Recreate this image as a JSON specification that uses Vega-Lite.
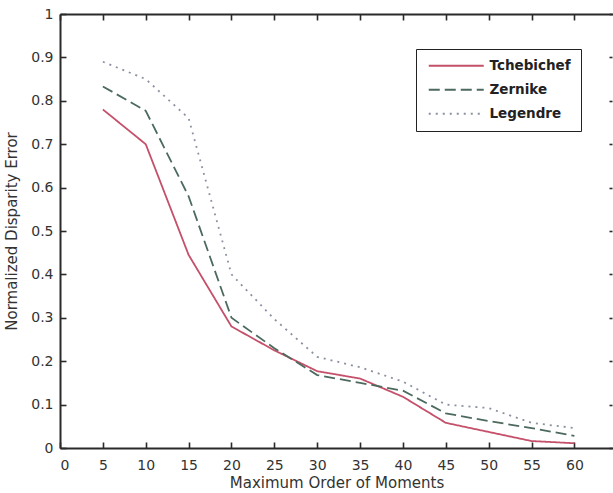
{
  "$schema": "https://vega.github.io/schema/vega-lite/v6.json",
  "autosize": "none",
  "padding": {"left": 60, "top": 14, "right": 0, "bottom": 45},
  "width": 553,
  "height": 434,
  "background": "white",
  "data": {"values": [
    {"order": 5, "error": 0.78, "method": "Tchebichef"},
    {"order": 10, "error": 0.70, "method": "Tchebichef"},
    {"order": 15, "error": 0.445, "method": "Tchebichef"},
    {"order": 20, "error": 0.28, "method": "Tchebichef"},
    {"order": 25, "error": 0.225, "method": "Tchebichef"},
    {"order": 30, "error": 0.177, "method": "Tchebichef"},
    {"order": 35, "error": 0.16, "method": "Tchebichef"},
    {"order": 40, "error": 0.118, "method": "Tchebichef"},
    {"order": 45, "error": 0.058, "method": "Tchebichef"},
    {"order": 50, "error": 0.037, "method": "Tchebichef"},
    {"order": 55, "error": 0.016, "method": "Tchebichef"},
    {"order": 60, "error": 0.011, "method": "Tchebichef"},
    {"order": 5, "error": 0.833, "method": "Zernike"},
    {"order": 10, "error": 0.777, "method": "Zernike"},
    {"order": 15, "error": 0.58, "method": "Zernike"},
    {"order": 20, "error": 0.30, "method": "Zernike"},
    {"order": 25, "error": 0.23, "method": "Zernike"},
    {"order": 30, "error": 0.168, "method": "Zernike"},
    {"order": 35, "error": 0.15, "method": "Zernike"},
    {"order": 40, "error": 0.132, "method": "Zernike"},
    {"order": 45, "error": 0.08, "method": "Zernike"},
    {"order": 50, "error": 0.062, "method": "Zernike"},
    {"order": 55, "error": 0.046, "method": "Zernike"},
    {"order": 60, "error": 0.028, "method": "Zernike"},
    {"order": 5, "error": 0.89, "method": "Legendre"},
    {"order": 10, "error": 0.85, "method": "Legendre"},
    {"order": 15, "error": 0.76, "method": "Legendre"},
    {"order": 20, "error": 0.40, "method": "Legendre"},
    {"order": 25, "error": 0.297, "method": "Legendre"},
    {"order": 30, "error": 0.21, "method": "Legendre"},
    {"order": 35, "error": 0.186, "method": "Legendre"},
    {"order": 40, "error": 0.153, "method": "Legendre"},
    {"order": 45, "error": 0.10, "method": "Legendre"},
    {"order": 50, "error": 0.092, "method": "Legendre"},
    {"order": 55, "error": 0.058, "method": "Legendre"},
    {"order": 60, "error": 0.046, "method": "Legendre"}
  ]},
  "layer": [
    {
      "mark": {"type": "line", "strokeWidth": 1.8},
      "encoding": {
        "x": {"field": "order", "type": "quantitative",
          "scale": {"domain": [0, 64.5], "nice": false, "zero": false},
          "axis": {"orient": "bottom", "title": "Maximum Order of Moments", "values": [0,5,10,15,20,25,30,35,40,45,50,55,60],
            "ticks": false, "labelPadding": 10, "titlePadding": 3, "grid": false}},
        "y": {"field": "error", "type": "quantitative",
          "scale": {"domain": [0, 1], "nice": false},
          "axis": {"orient": "left", "title": "Normalized Disparity Error", "values": [0,0.1,0.2,0.3,0.4,0.5,0.6,0.7,0.8,0.9,1],
            "format": ".1~f", "ticks": false, "labelPadding": 7, "titlePadding": 11, "grid": false}},
        "color": {"field": "method", "type": "nominal",
          "scale": {"domain": ["Tchebichef", "Zernike", "Legendre"], "range": ["#c4506a", "#4c6a5e", "#8a90a0"]},
          "legend": {"title": null, "orient": "none", "legendX": 356, "legendY": 35}},
        "strokeDash": {"field": "method", "type": "nominal",
          "scale": {"domain": ["Tchebichef", "Zernike", "Legendre"], "range": [[1, 0], [11, 5], [2, 5]]},
          "legend": {"title": null, "orient": "none", "legendX": 356, "legendY": 35}}
      }
    },
    {
      "mark": {"type": "line", "strokeOpacity": 0},
      "encoding": {
        "x": {"field": "order", "type": "quantitative",
          "scale": {"domain": [0, 64.5], "nice": false, "zero": false},
          "axis": {"orient": "top", "title": null, "labels": false, "ticks": false, "grid": false}},
        "y": {"field": "error", "type": "quantitative",
          "scale": {"domain": [0, 1], "nice": false},
          "axis": {"orient": "right", "title": null, "labels": false, "ticks": false, "domain": false, "grid": false}},
        "detail": {"field": "method"}
      }
    },
    {
      "mark": {"type": "line", "strokeOpacity": 0},
      "encoding": {
        "x": {"field": "order", "type": "quantitative",
          "scale": {"domain": [0, 64.5], "nice": false, "zero": false},
          "axis": {"orient": "bottom", "offset": -6, "title": null, "labels": false, "domain": false, "tickSize": 6,
            "values": [0,5,10,15,20,25,30,35,40,45,50,55,60], "grid": false}},
        "y": {"field": "error", "type": "quantitative",
          "scale": {"domain": [0, 1], "nice": false},
          "axis": {"orient": "left", "offset": -6, "title": null, "labels": false, "domain": false, "tickSize": 6,
            "values": [0,0.1,0.2,0.3,0.4,0.5,0.6,0.7,0.8,0.9,1], "grid": false}},
        "detail": {"field": "method"}
      }
    },
    {
      "mark": {"type": "line", "strokeOpacity": 0},
      "encoding": {
        "x": {"field": "order", "type": "quantitative",
          "scale": {"domain": [0, 64.5], "nice": false, "zero": false},
          "axis": {"orient": "top", "offset": -6, "title": null, "labels": false, "domain": false, "tickSize": 6,
            "values": [0,5,10,15,20,25,30,35,40,45,50,55,60], "grid": false}},
        "y": {"field": "error", "type": "quantitative",
          "scale": {"domain": [0, 1], "nice": false},
          "axis": {"orient": "right", "offset": -4, "title": null, "labels": false, "domain": false, "tickSize": 3,
            "values": [0,0.1,0.2,0.3,0.4,0.5,0.6,0.7,0.8,0.9,1], "grid": false}},
        "detail": {"field": "method"}
      }
    }
  ],
  "resolve": {"axis": {"x": "independent", "y": "independent"}},
  "config": {
    "view": {"stroke": null},
    "font": "DejaVu Sans",
    "axis": {
      "domainColor": "#2a2a2a", "domainWidth": 2, "tickColor": "#2a2a2a", "tickWidth": 1.6,
      "labelFont": "DejaVu Sans", "labelFontSize": 14, "labelColor": "#333",
      "titleFont": "DejaVu Sans", "titleFontSize": 15, "titleFontWeight": "normal", "titleColor": "#333"
    },
    "legend": {
      "strokeColor": "#222", "fillColor": "white", "padding": 10,
      "symbolType": "M-1,0H12.75", "symbolSize": 64, "symbolStrokeWidth": 1.8,
      "labelFont": "DejaVu Sans", "labelFontSize": 13.5, "labelFontWeight": "bold", "labelColor": "#222", "labelOffset": 50,
      "rowPadding": 9, "cornerRadius": 0
    }
  }
}
